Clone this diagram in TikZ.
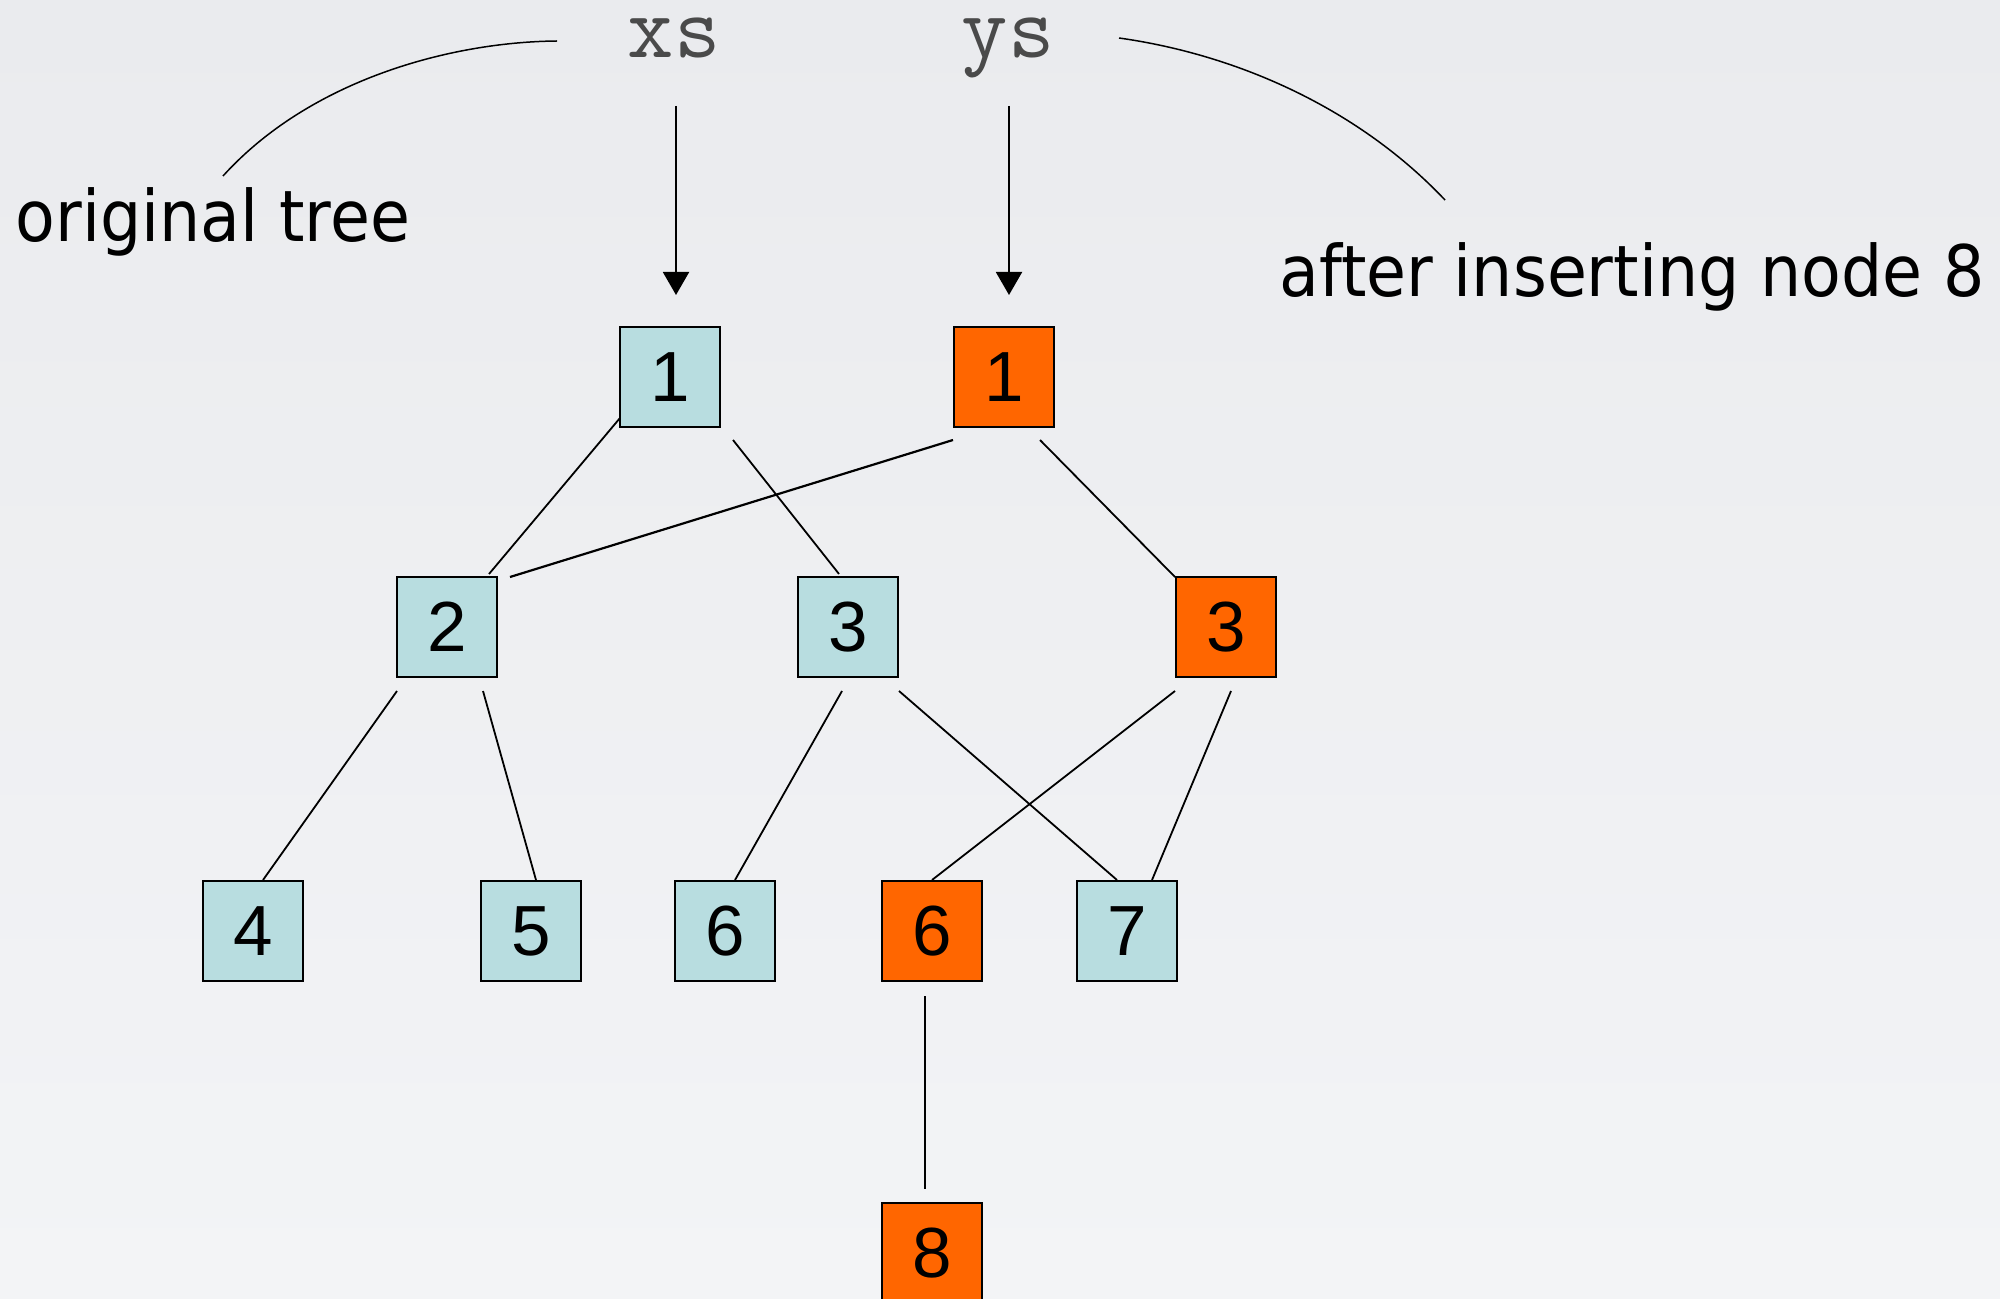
\documentclass[tikz,border=0pt]{standalone}
\usepackage{fontspec}
\setmainfont{Liberation Sans}
\newfontfamily\lblfont[FakeStretch=0.915]{DejaVu Sans}
\usetikzlibrary{calc,arrows.meta}
\definecolor{bgtop}{HTML}{EAEBEE}
\definecolor{bgbot}{HTML}{F3F4F6}
\definecolor{tealbox}{HTML}{B8DDE0}
\definecolor{orangebox}{HTML}{FF6600}
\definecolor{vargray}{HTML}{4A4A4A}
\begin{document}
\begin{tikzpicture}[x=0.5pt,y=-0.5pt,
  treebox/.style={draw=black, line width=1.3pt, minimum width=50pt, minimum height=50pt,
    inner sep=0pt, font=\fontsize{35.5}{40}\selectfont},
  oldbox/.style={treebox, fill=tealbox},
  newbox/.style={treebox, fill=orangebox},
  edge/.style={line width=0.9pt},
  ptr/.style={line width=1pt, -{Triangle[length=11.5pt,width=13pt]}},
  brace/.style={line width=0.75pt},
  varname/.style={font=\ttfamily\fontsize{45}{50}\selectfont, text=vargray, inner sep=0pt, anchor=base},
  caption/.style={font=\lblfont\fontsize{35.5}{40}\selectfont, inner sep=0pt, anchor=base}]

\useasboundingbox (0,0) rectangle (2000,1299);
\shade[top color=bgtop, bottom color=bgbot] (0,0) rectangle (2000,1299);

% labels
\node[varname] (xs) at (674,58) {xs};
\node[varname] (ys) at (1008,58) {ys};
\node[caption] (orig) at (213,242) {original tree};
\node[caption] (after) at (1632,297) {after inserting node 8};

% tree nodes
\node[oldbox] (b1) at (670,377) {1};
\node[newbox] (o1) at (1004,377) {1};
\node[oldbox] (b2) at (447,627) {2};
\node[oldbox] (b3) at (848,627) {3};
\node[newbox] (o3) at (1226,627) {3};
\node[oldbox] (b4) at (253,931) {4};
\node[oldbox] (b5) at (531,931) {5};
\node[oldbox] (b6) at (725,931) {6};
\node[newbox] (o6) at (932,931) {6};
\node[oldbox] (b7) at (1127,931) {7};
\node[newbox] (o8) at (932,1253) {8};

% curves from captions to variable names
\coordinate (lc) at (223,176);
\coordinate (rc) at (1445,200);
\draw[brace] ($(xs.base)+(-117,-17)$) .. controls (450,42) and (310,80) .. (lc);
\draw[brace] ($(ys.base)+(111,-20)$) .. controls (1240,55) and (1360,110) .. (rc);

% pointers
\draw[ptr] ($(xs.base)+(2,48)$) -- ($(b1.center)+(6,-82)$);
\draw[ptr] ($(ys.base)+(1,48)$) -- ($(o1.center)+(5,-82)$);

% edges
\draw[edge] ($(b1.center)+(-50,41)$) -- ($(b2.center)+(42,-53)$);
\draw[edge] ($(b1.center)+(63,63)$) -- ($(b3.center)+(-9,-53)$);
\draw[edge, line width=1.1pt] ($(o1.center)+(-51,63)$) -- ($(b2.center)+(63,-50)$);
\draw[edge] ($(o1.center)+(36,63)$) -- ($(o3.center)+(-51,-50)$);
\draw[edge] ($(b2.center)+(-50,64)$) -- ($(b4.center)+(10,-51)$);
\draw[edge] ($(b2.center)+(36,64)$) -- ($(b5.center)+(5,-51)$);
\draw[edge] ($(b3.center)+(-6,64)$) -- ($(b6.center)+(10,-51)$);
\draw[edge] ($(b3.center)+(51,64)$) -- ($(b7.center)+(-10,-51)$);
\draw[edge] ($(o3.center)+(-51,64)$) -- ($(o6.center)+(0,-51)$);
\draw[edge] ($(o3.center)+(5,64)$) -- ($(b7.center)+(25,-51)$);
\draw[edge] ($(o6.center)+(-7,65)$) -- ($(o8.center)+(-7,-64)$);
\end{tikzpicture}
\end{document}
